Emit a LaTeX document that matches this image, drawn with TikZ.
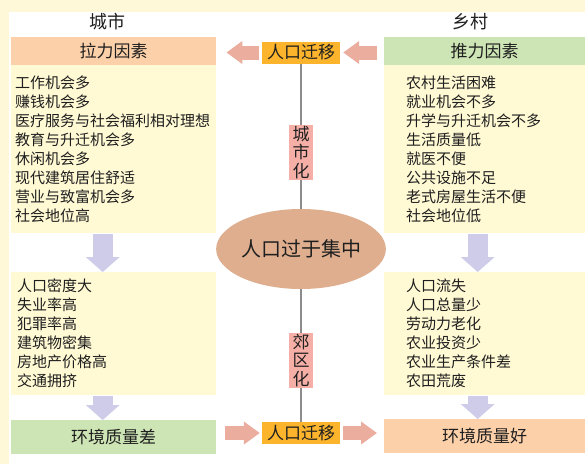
\documentclass[tikz,border=0pt]{standalone}
\usepackage{fontspec}
\setmainfont{Noto Sans CJK SC}
\usetikzlibrary{arrows.meta,shapes.geometric}
\definecolor{bgyel}{HTML}{FFF8D8}
\definecolor{listyel}{HTML}{FFF9D4}
\definecolor{salm}{HTML}{FCD0A9}
\definecolor{grn}{HTML}{CDE4B4}
\definecolor{migor}{HTML}{FBB42C}
\definecolor{arrsal}{HTML}{EBAE9E}
\definecolor{lav}{HTML}{CECCE8}
\definecolor{crowdc}{HTML}{DEAE8E}
\definecolor{tagpink}{HTML}{F5AFA6}
\begin{document}
\begin{tikzpicture}[x=1pt,y=-1pt,line join=round,text=black!88,
	title/.style={font=\fontsize{18}{18}\selectfont},
	head/.style={anchor=north west,minimum width=205pt,minimum height=28pt,inner sep=0pt,font=\fontsize{17}{17}\selectfont},
	list/.style={anchor=north west,fill=listyel,align=left,inner ysep=0pt,font=\fontsize{15}{19}\selectfont},
	mig/.style={fill=migor,minimum width=78pt,minimum height=22pt,inner sep=0pt,font=\fontsize{17}{17}\selectfont},
	tag/.style={fill=tagpink,minimum width=24pt,minimum height=55pt,inner sep=0pt,align=center,font=\fontsize{17}{18.5}\selectfont},
	crowd/.style={ellipse,fill=crowdc,minimum width=166pt,minimum height=80pt,inner sep=0pt,font=\fontsize{20}{20}\selectfont},
	fatarrow/.style={draw=arrsal,line width=14pt,-{Triangle[width=22pt,length=16pt]}},
	down/.style={draw=lav,line width=20pt,-{Triangle[width=33pt,length=15pt]}}]
	\useasboundingbox (0,0) rectangle (585,464);
	\fill[bgyel] (0,0) rectangle (585,464);
	\fill[white] (9,12) rectangle (585,464);
	\node[title] (city) at (107,22) {城市};
	\node[title] (rural) at (470,22) {乡村};
	\node[head,fill=salm] (pull) at (11,37) {拉力因素};
	\node[head,fill=grn,minimum width=201pt] (push) at (384,37) {推力因素};
	\node[list,text width=197pt,inner xsep=4pt,minimum height=168pt] (pullbox) at (11,65) {工作机会多\\赚钱机会多\\医疗服务与社会福利相对理想\\教育与升迁机会多\\休闲机会多\\现代建筑居住舒适\\营业与致富机会多\\社会地位高};
	\node[list,text width=157pt,inner xsep=22pt,minimum height=168pt] (pushbox) at (384,65) {农村生活困难\\就业机会不多\\升学与升迁机会不多\\生活质量低\\就医不便\\公共设施不足\\老式房屋生活不便\\社会地位低};
	\node[list,text width=193pt,inner xsep=6pt,minimum height=123pt] (lowleft) at (11,272) {人口密度大\\失业率高\\犯罪率高\\建筑物密集\\房地产价格高\\交通拥挤};
	\node[list,text width=157pt,inner xsep=22pt,minimum height=123pt] (lowright) at (384,272) {人口流失\\人口总量少\\劳动力老化\\农业投资少\\农业生产条件差\\农田荒废};
	\node[head,fill=grn,minimum height=34pt] (badenv) at (11,420) {环境质量差};
	\node[head,fill=salm,minimum width=201pt,minimum height=34pt] (goodenv) at (384,419) {环境质量好};
	\node[mig] (migtop) at (301,52.5) {人口迁移};
	\node[mig] (migbot) at (301,433) {人口迁移};
	\node[crowd] (crowd) at (301,249) {人口过于集中};
	\draw[black!45,line width=1.5pt] (migtop) -- (crowd) (crowd) -- (migbot);
	\node[tag] (urban) at (301,152.5) {城\\市\\化};
	\node[tag] (suburb) at (301,360.5) {郊\\区\\化};
	\draw[fatarrow,shorten <=3pt,shorten >=10pt] (migtop.west) -- (migtop.west -| pull.east);
	\draw[fatarrow,shorten <=7pt,shorten >=3pt] (migtop.east -| push.west) -- (migtop.east);
	\draw[fatarrow,shorten <=9pt,shorten >=2pt] (migbot.west -| badenv.east) -- (migbot.west);
	\draw[fatarrow,shorten <=3pt,shorten >=7pt] (migbot.east) -- (migbot.east -| goodenv.west);
	\draw[down,shorten <=1pt] ([xshift=-11pt]pullbox.south) -- ([xshift=-11pt]lowleft.north);
	\draw[down,shorten <=1pt] ([xshift=-11pt]lowleft.south) -- ([xshift=-11pt]badenv.north);
	\draw[down,shorten <=1pt] ([xshift=-7pt]pushbox.south) -- ([xshift=-7pt]lowright.north);
	\draw[down,shorten <=1pt] ([xshift=-7pt]lowright.south) -- ([xshift=-7pt]goodenv.north);
\end{tikzpicture}
\end{document}
